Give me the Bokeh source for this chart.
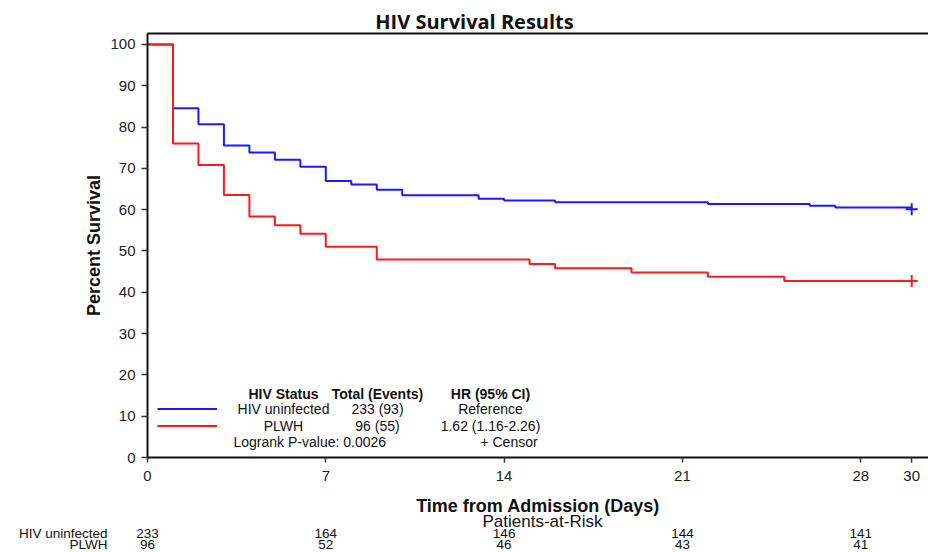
from bokeh.plotting import figure
from bokeh.models import (Range1d, FixedTicker, Label, LabelSet, LinearAxis,
                          ColumnDataSource, Legend, LegendItem)
from bokeh.core.properties import value
from bokeh.embed import file_html
from bokeh.resources import INLINE

# ---- data ----
blue_days = [0, 1, 2, 3, 4, 5, 6, 7, 8, 9, 10, 13, 14, 16, 22, 26, 27, 30]
blue_surv = [100, 84.55, 80.69, 75.54, 73.82, 72.10, 70.39, 66.95, 66.09, 64.81,
             63.52, 62.66, 62.23, 61.80, 61.37, 60.94, 60.52, 60.09]
red_days = [0, 1, 2, 3, 4, 5, 6, 7, 9, 15, 16, 19, 22, 25, 30]
red_surv = [100, 76.04, 70.83, 63.54, 58.33, 56.25, 54.17, 51.04, 47.92, 46.88,
            45.83, 44.79, 43.75, 42.71, 42.71]
censor_day = [30, 30]
censor_surv = [60.09, 42.71]
x_ticks = [0, 7, 14, 21, 28, 30]
y_ticks = [0, 10, 20, 30, 40, 50, 60, 70, 80, 90, 100]
risk_days = [0, 7, 14, 21, 28]
risk_uninfected = [233, 164, 146, 144, 141]
risk_plwh = [96, 52, 46, 43, 41]
groups = ["HIV uninfected", "PLWH"]
totals = ["233 (93)", "96 (55)"]
hazard = ["Reference", "1.62 (1.16-2.26)"]
headers = ["HIV Status", "Total (Events)", "HR (95% CI)"]
pvalue_text = "Logrank P-value: 0.0026"
censor_text = "+  Censor"
colors = ["#1a1aff", "#ff1a1a"]

ARIAL = "Liberation Sans"
INK = "#111111"

# plot area: days 0..30.66, percent 0..102.66; the canvas around it holds the
# title, axis texts and the patients-at-risk table
X0, X1 = 0, 30.66
Y0, Y1 = 0, 102.66
p = figure(width=928, height=552, output_backend="svg", toolbar_location=None,
           x_range=Range1d(-5.771, X1), y_range=Range1d(-23.0, 110.65),
           min_border=0, min_border_left=0, min_border_right=0,
           min_border_top=0, min_border_bottom=0)
p.outline_line_color = None
p.xgrid.visible = False
p.ygrid.visible = False

xa = p.xaxis[0]
ya = p.yaxis[0]
xa.fixed_location = 0
ya.fixed_location = 0
xa.bounds = (X0, X1)
ya.bounds = (Y0, Y1)
for ax in (xa, ya):
    ax.axis_line_width = 2
    ax.axis_line_color = INK
    ax.major_tick_line_color = "#333333"
    ax.major_tick_line_width = 1.5
    ax.major_tick_in = 0
    ax.minor_tick_line_color = None
    ax.major_label_text_font = ARIAL
    ax.major_label_text_font_size = "15px"
    ax.major_label_text_color = "#222222"
    ax.axis_label_text_font = ARIAL
    ax.axis_label_text_font_style = "bold"
    ax.axis_label_text_font_size = "18px"
    ax.axis_label_text_color = INK

xa.ticker = FixedTicker(ticks=x_ticks)
ya.ticker = FixedTicker(ticks=y_ticks)
xa.major_tick_out = 5
ya.major_tick_out = 6
xa.major_label_standoff = 8
ya.major_label_standoff = 6
xa.axis_label = "Time from Admission (Days)"
ya.axis_label = "Percent Survival"
xa.axis_label_standoff = 12
ya.axis_label_standoff = 3

# top border line of the plot area
top = LinearAxis(fixed_location=Y1, bounds=(X0, X1), ticker=FixedTicker(ticks=[]),
                 axis_line_width=2, axis_line_color=INK, major_tick_line_color=None,
                 minor_tick_line_color=None, major_label_text_font_size="0px")
p.add_layout(top, "above")

r_blue = p.step(blue_days, blue_surv, mode="after", line_color=colors[0], line_width=2)
r_red = p.step(red_days, red_surv, mode="after", line_color=colors[1], line_width=2)
p.scatter(censor_day, censor_surv, marker="cross", size=12, line_width=2,
          line_color=colors)

# title (screen units: px from left, px from bottom of the canvas)
p.add_layout(Label(x=474, y=531, x_units="screen", y_units="screen",
                   text="HIV Survival Results", text_align="center",
                   text_baseline="middle", text_font="Open Sans",
                   text_font_style="bold", text_font_size="20px", text_color=INK))

# legend lines
leg = Legend(items=[LegendItem(label=" ", renderers=[r_blue]),
                    LegendItem(label=" ", renderers=[r_red])],
             location=(157, 119.5), glyph_width=60, glyph_height=15, spacing=2,
             padding=0, margin=0, label_text_font_size="1px", label_standoff=0,
             border_line_color=None, background_fill_alpha=0)
p.add_layout(leg)

# legend table
col_x = [283, 377, 490]
hdr_src = ColumnDataSource(dict(x=col_x, y=[159] * 3, t=headers))
p.add_layout(LabelSet(x="x", y="y", text="t", source=hdr_src, x_units="screen",
                      y_units="screen", text_align="center", text_baseline="middle",
                      text_font=value(ARIAL), text_font_style="bold",
                      text_font_size="14px", text_color=INK))
row_y = [144, 127]
for col, vals in zip(col_x, [groups, totals, hazard]):
    src = ColumnDataSource(dict(x=[col] * len(vals), y=row_y, t=vals))
    p.add_layout(LabelSet(x="x", y="y", text="t", source=src, x_units="screen",
                          y_units="screen", text_align="center", text_baseline="middle",
                          text_font=value(ARIAL), text_font_size="14px",
                          text_color=INK))
p.add_layout(Label(x=233, y=111, x_units="screen", y_units="screen", text=pvalue_text,
                   text_align="left", text_baseline="middle", text_font=ARIAL,
                   text_font_size="14px", text_color=INK))
p.add_layout(Label(x=541, y=111, x_units="screen", y_units="screen", text=censor_text,
                   text_align="right", text_baseline="middle", text_font=ARIAL,
                   text_font_size="14px", text_color=INK))

# patients at risk table
p.add_layout(Label(x=542, y=31, x_units="screen", y_units="screen",
                   text="Patients-at-Risk", text_align="center", text_baseline="middle",
                   text_font=ARIAL, text_font_size="17px", text_color=INK))
for rowname, counts, yy in [(groups[0], risk_uninfected, 19), (groups[1], risk_plwh, 8.5)]:
    src = ColumnDataSource(dict(x=risk_days, y=[yy] * len(risk_days),
                                t=[str(c) for c in counts]))
    p.add_layout(LabelSet(x="x", y="y", text="t", source=src, x_units="data",
                          y_units="screen", text_align="center", text_baseline="middle",
                          text_font=value(ARIAL), text_font_size="13.5px",
                          text_color=INK))
    p.add_layout(Label(x=107, y=yy, x_units="screen", y_units="screen", text=rowname,
                       text_align="right", text_baseline="middle",
                       text_font=ARIAL, text_font_size="13.5px", text_color=INK))

open("out.html", "w").write(file_html(p, INLINE))
